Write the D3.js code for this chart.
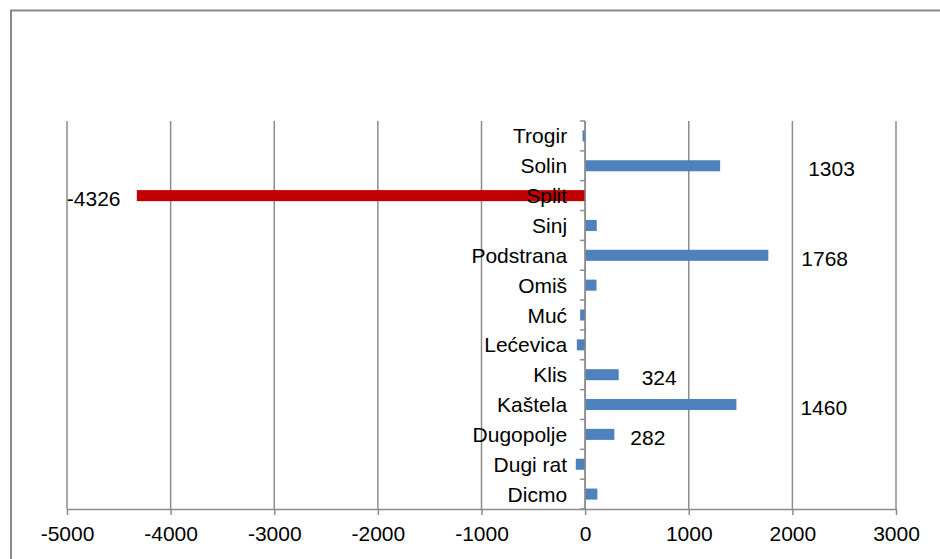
<!DOCTYPE html>
<html>
<head>
<meta charset="utf-8">
<script src="https://cdn.jsdelivr.net/npm/d3@7"></script>
<style>
  body { margin: 0; background: #fff; }
  text { font-family: 'Liberation Sans', Arial, sans-serif; }
</style>
</head>
<body>
<script>
var canvasWidth = 940;
var canvasHeight = 559;

// data, top to bottom as shown
var towns = ['Trogir', 'Solin', 'Split', 'Sinj', 'Podstrana', 'Omiš', 'Muć',
    'Lećevica', 'Klis', 'Kaštela', 'Dugopolje', 'Dugi rat', 'Dicmo'];
var change = [-25, 1303, -4326, 112, 1768, 110, -48, -80, 324, 1460, 282, -90, 118];
var labelled = ['Solin', 'Split', 'Podstrana', 'Klis', 'Kaštela', 'Dugopolje'];
var xTicks = [-5000, -4000, -3000, -2000, -1000, 0, 1000, 2000, 3000];

// label nudges (px from bar end), as placed in the original
var labelShift = {
    'Solin': 88, 'Split': -70, 'Podstrana': 33,
    'Klis': 23, 'Kaštela': 64, 'Dugopolje': 16
};

var svg = d3
    .select('body')
    .append('svg')
    .attr('width', canvasWidth)
    .attr('height', canvasHeight);

// outer frame
svg.append('rect')
    .attr('x', 11)
    .attr('y', 10.5)
    .attr('width', 960)
    .attr('height', 600)
    .attr('fill', 'none')
    .attr('stroke', '#898989')
    .attr('stroke-width', 2);

var xScale = d3.scaleLinear().domain([-5000, 3000]).range([67, 896]);
var yScale = d3.scaleBand().domain(towns).range([121, 509]).paddingInner(0.63).paddingOuter(0.315);

// vertical gridlines
svg.append('g')
    .selectAll('line')
    .data(xTicks)
    .enter()
    .append('line')
    .attr('x1', function (d) { return xScale(d); })
    .attr('x2', function (d) { return xScale(d); })
    .attr('y1', 121)
    .attr('y2', 509)
    .attr('stroke', '#8c8c8c')
    .attr('stroke-width', 1.5);

// bars
svg.append('g')
    .selectAll('rect')
    .data(towns)
    .enter()
    .append('rect')
    .attr('x', function (d, i) { return xScale(Math.min(0, change[i])); })
    .attr('y', function (d) { return yScale(d); })
    .attr('width', function (d, i) { return Math.abs(xScale(change[i]) - xScale(0)); })
    .attr('height', yScale.bandwidth())
    .attr('fill', function (d, i) { return d === 'Split' ? '#c00000' : '#4f81bd'; });

// bottom axis
var xAxis = svg.append('g')
    .attr('transform', 'translate(0,509)')
    .call(d3.axisBottom(xScale)
        .tickValues(xTicks)
        .tickFormat(function (d) { return String(d); })
        .tickSize(6).tickSizeOuter(0).tickPadding(11));
xAxis.select('.domain').attr('stroke', '#8c8c8c').attr('stroke-width', 1.5);
xAxis.selectAll('.tick line').attr('stroke', '#8c8c8c').attr('stroke-width', 1.5);
xAxis.selectAll('.tick text')
    .attr('font-size', '21px')
    .attr('font-family', "'Liberation Sans', Arial, sans-serif")
    .attr('fill', '#000');

// category axis at zero
var yStep = yScale.step();
var yAxis = svg.append('g').attr('transform', 'translate(' + xScale(0) + ',0)');
yAxis.append('line')
    .attr('y1', 121).attr('y2', 509)
    .attr('stroke', '#8c8c8c').attr('stroke-width', 1.5);
yAxis.selectAll('line.tk')
    .data(d3.range(towns.length + 1))
    .enter()
    .append('line')
    .attr('class', 'tk')
    .attr('x1', -5).attr('x2', 0)
    .attr('y1', function (d) { return 121 + d * yStep; })
    .attr('y2', function (d) { return 121 + d * yStep; })
    .attr('stroke', '#8c8c8c').attr('stroke-width', 1.5);

// category labels
svg.append('g')
    .selectAll('text')
    .data(towns)
    .enter()
    .append('text')
    .attr('x', xScale(0) - 18)
    .attr('y', function (d) { return yScale(d) + yScale.bandwidth() / 2 + 7.5; })
    .attr('text-anchor', 'end')
    .attr('font-size', '21px')
    .text(function (d) { return d; });

// data labels
svg.append('g')
    .selectAll('text')
    .data(labelled)
    .enter()
    .append('text')
    .attr('x', function (d) {
        var v = change[towns.indexOf(d)];
        return xScale(v) + labelShift[d];
    })
    .attr('y', function (d) { return yScale(d) + yScale.bandwidth() / 2 + 10.5; })
    .attr('font-size', '21px')
    .text(function (d) { return change[towns.indexOf(d)]; });
</script>
</body>
</html>
